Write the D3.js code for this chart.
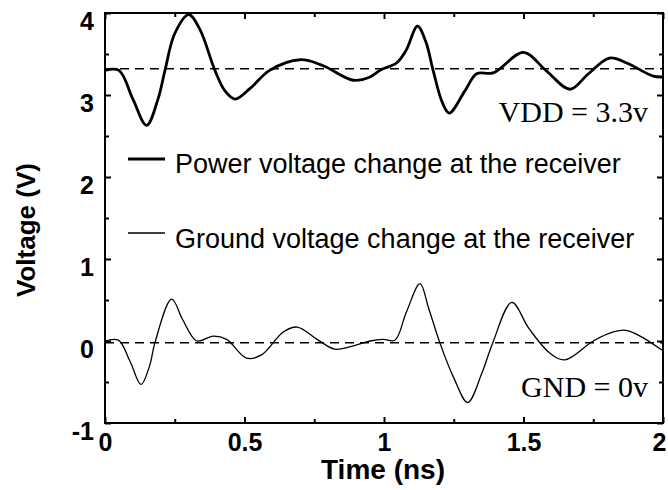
<!DOCTYPE html>
<html><head><meta charset="utf-8">
<script src="https://cdn.jsdelivr.net/npm/d3@7"></script>
<style>body{margin:0;background:#fff}svg{display:block}</style>
</head><body><svg id="c" width="668" height="490"></svg>
<script>
const powerT = [0,0.05,0.10,0.149,0.19,0.215,0.25,0.30,0.34,0.394,0.43,0.466,0.52,0.59,0.70,0.78,0.89,0.95,0.99,1.045,1.08,1.12,1.15,1.176,1.21,1.234,1.29,1.332,1.392,1.50,1.58,1.667,1.73,1.808,1.87,1.965,2.0];
const powerV = [3.30,3.30,2.95,2.63,2.95,3.30,3.75,3.98,3.80,3.30,3.05,2.95,3.08,3.30,3.43,3.36,3.18,3.22,3.31,3.39,3.55,3.84,3.65,3.30,2.90,2.78,3.05,3.26,3.27,3.52,3.30,3.07,3.25,3.45,3.39,3.23,3.22];
const groundT = [0,0.048,0.09,0.129,0.16,0.179,0.239,0.28,0.329,0.388,0.436,0.508,0.561,0.639,0.689,0.76,0.824,0.89,0.95,0.997,1.039,1.08,1.129,1.16,1.20,1.25,1.30,1.35,1.39,1.458,1.52,1.595,1.649,1.75,1.822,1.867,1.918,2.0];
const groundV = [0.0,0.01,-0.25,-0.53,-0.30,-0.02,0.51,0.25,0.0,0.06,0.02,-0.21,-0.17,0.11,0.17,0.02,-0.10,-0.06,0.0,0.02,0.01,0.35,0.70,0.40,-0.02,-0.45,-0.75,-0.40,-0.02,0.47,0.15,-0.15,-0.23,0.0,0.11,0.13,0.06,-0.12];
const refLevels = [3.32, -0.02];
const refLabels = ["VDD = 3.3v", "GND = 0v"];
const xTicks = [0, 0.5, 1, 1.5, 2];
const xTickLabels = ["0", "0.5", "1", "1.5", "2"];
const xMinor = [0.25, 0.75, 1.25, 1.75];
const yTicks = [-1, 0, 1, 2, 3, 4];
const yTickLabels = ["-1", "0", "1", "2", "3", "4"];
const yMinor = [-0.5, 0.5, 1.5, 2.5, 3.5];
const legendLabels = ["Power voltage change at the receiver", "Ground voltage change at the receiver"];

const svg = d3.select("#c");
const L = 105, R = 663, T = 13, B = 423;
const x = d3.scaleLinear().domain([0, 2]).range([L, R]);
const y = d3.scaleLinear().domain([-1, 4]).range([B, T]);
const sans = "'Liberation Sans', Arial, sans-serif";
const serif = "'Liberation Serif', 'Times New Roman', serif";

svg.selectAll(".ref").data(refLevels).enter().append("line")
  .attr("x1", x(0)).attr("x2", x(2))
  .attr("y1", d => y(d)).attr("y2", d => y(d))
  .attr("stroke", "#000").attr("stroke-width", 1.5).attr("stroke-dasharray", "9,6");

const line = d3.line().x(d => x(d[0])).y(d => y(d[1])).curve(d3.curveCatmullRom.alpha(0.5));
svg.append("path").datum(powerT.map((t, i) => [t, powerV[i]]))
  .attr("d", line).attr("fill", "none").attr("stroke", "#000").attr("stroke-width", 2.8);
svg.append("path").datum(groundT.map((t, i) => [t, groundV[i]]))
  .attr("d", line).attr("fill", "none").attr("stroke", "#000").attr("stroke-width", 1.3);

function styleAxis(g) {
  g.select(".domain").remove();
  g.selectAll(".tick line").attr("stroke", "#000").attr("stroke-width", 2);
  g.selectAll("text").attr("fill", "#000").attr("font-family", sans)
    .attr("font-weight", "bold").attr("font-size", 25);
}
const gb = svg.append("g").attr("transform", `translate(0,${B})`)
  .call(d3.axisBottom(x).tickValues(xTicks).tickFormat((d, i) => xTickLabels[i]).tickSize(-6).tickPadding(10));
styleAxis(gb);
gb.selectAll("text").filter(d => d === 2).attr("dx", -4);
const gbm = svg.append("g").attr("transform", `translate(0,${B})`)
  .call(d3.axisBottom(x).tickValues(xMinor).tickFormat("").tickSize(-4));
styleAxis(gbm);
const gt = svg.append("g").attr("transform", `translate(0,${T})`)
  .call(d3.axisTop(x).tickValues(xTicks).tickFormat("").tickSize(-6));
styleAxis(gt);
const gtm = svg.append("g").attr("transform", `translate(0,${T})`)
  .call(d3.axisTop(x).tickValues(xMinor).tickFormat("").tickSize(-4));
styleAxis(gtm);
const gl = svg.append("g").attr("transform", `translate(${L},0)`)
  .call(d3.axisLeft(y).tickValues(yTicks).tickFormat((d, i) => yTickLabels[i]).tickSize(-6).tickPadding(11));
styleAxis(gl);
gl.selectAll("text").attr("dy", "0.64em");
const glm = svg.append("g").attr("transform", `translate(${L},0)`)
  .call(d3.axisLeft(y).tickValues(yMinor).tickFormat("").tickSize(-4));
styleAxis(glm);
const gr = svg.append("g").attr("transform", `translate(${R},0)`)
  .call(d3.axisRight(y).tickValues(yTicks).tickFormat("").tickSize(-6));
styleAxis(gr);
const grm = svg.append("g").attr("transform", `translate(${R},0)`)
  .call(d3.axisRight(y).tickValues(yMinor).tickFormat("").tickSize(-4));
styleAxis(grm);

svg.append("rect").attr("x", L).attr("y", T).attr("width", R - L).attr("height", B - T)
  .attr("fill", "none").attr("stroke", "#000").attr("stroke-width", 2);

svg.append("text").attr("x", 383).attr("y", 479).attr("text-anchor", "middle")
  .attr("font-family", sans).attr("font-weight", "bold").attr("font-size", 28).text("Time (ns)");
svg.append("text").attr("transform", "translate(35,230) rotate(-90)").attr("text-anchor", "middle")
  .attr("font-family", sans).attr("font-weight", "bold").attr("font-size", 26).text("Voltage (V)");

const legY = [159, 233], legW = [2.8, 1.3], legTY = [173, 248];
legendLabels.forEach((lab, i) => {
  svg.append("line").attr("x1", 128).attr("x2", 165).attr("y1", legY[i]).attr("y2", legY[i])
    .attr("stroke", "#000").attr("stroke-width", legW[i]);
  svg.append("text").attr("x", 175).attr("y", legTY[i]).attr("font-family", sans)
    .attr("font-size", 27).attr("fill", "#000").text(lab);
});

const annY = [122, 397];
refLabels.forEach((lab, i) => {
  svg.append("text").attr("x", 648).attr("y", annY[i]).attr("text-anchor", "end")
    .attr("font-family", serif).attr("font-size", 30).attr("fill", "#000").text(lab);
});
</script></body></html>
